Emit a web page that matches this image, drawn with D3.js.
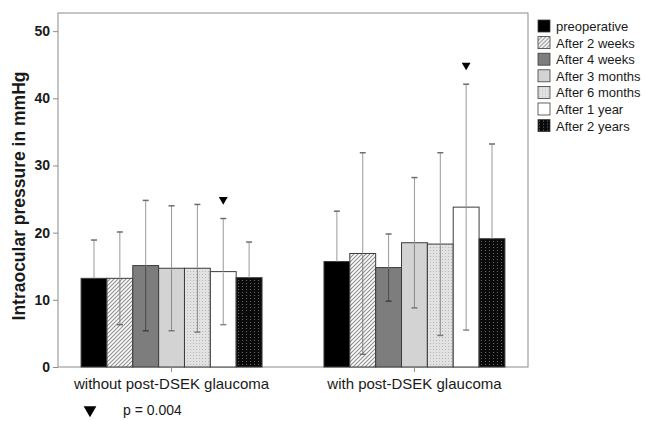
<!DOCTYPE html>
<html>
<head>
<meta charset="utf-8">
<script src="https://cdn.jsdelivr.net/npm/d3@7"></script>
<style>
  body { margin: 0; background: #fff; }
  svg text { font-family: "Liberation Sans", Arial, sans-serif; fill: #1a1a1a; }
</style>
</head>
<body>
<svg id="chart" width="646" height="421"></svg>
<script>
const groups = ["without post-DSEK glaucoma", "with post-DSEK glaucoma"];
const periods = ["preoperative", "After 2 weeks", "After 4 weeks", "After 3 months",
                 "After 6 months", "After 1 year", "After 2 years"];

// means and standard deviations
const meanWithout = [13.2, 13.2, 15.1, 14.7, 14.7, 14.2, 13.3];
const sdWithout   = [5.7, 6.9, 9.7, 9.3, 9.5, 7.9, 5.3];
const meanWith    = [15.7, 16.9, 14.8, 18.5, 18.3, 23.8, 19.1];
const sdWith      = [7.5, 15.0, 5.0, 9.7, 13.6, 18.3, 14.1];

// index of the period marked as significant in each group
const sigWithout = [5];
const sigWith = [5];
const pNote = "p = 0.004";

const yTicks = [0, 10, 20, 30, 40, 50];

const svg = d3.select("#chart");

const plotLeft = 58, plotRight = 528, plotTop = 13, plotBottom = 367;

const x0 = d3.scaleBand().domain(groups).range([plotLeft, plotRight])
  .paddingInner(0.255).paddingOuter(0.095);
const x1 = d3.scaleBand().domain(periods).range([0, x0.bandwidth()]);
const y = d3.scaleLinear().domain([0, 52.7]).range([plotBottom, plotTop]);

// fills for the seven periods
const defs = svg.append("defs");

const hatch = defs.append("pattern").attr("id", "hatch")
  .attr("patternUnits", "userSpaceOnUse").attr("width", 4).attr("height", 4);
hatch.append("rect").attr("width", 4).attr("height", 4).attr("fill", "#fff");
hatch.append("path").attr("d", "M-1,1 L1,-1 M0,4 L4,0 M3,5 L5,3")
  .attr("stroke", "#8a8a8a").attr("stroke-width", 1.1);

const dots = defs.append("pattern").attr("id", "dots")
  .attr("patternUnits", "userSpaceOnUse").attr("width", 3).attr("height", 3);
dots.append("rect").attr("width", 3).attr("height", 3).attr("fill", "#e2e2e2");
dots.append("rect").attr("x", 1).attr("y", 1).attr("width", 1).attr("height", 1).attr("fill", "#b8b8b8");

const darkDots = defs.append("pattern").attr("id", "darkdots")
  .attr("patternUnits", "userSpaceOnUse").attr("width", 4).attr("height", 3);
darkDots.append("rect").attr("width", 4).attr("height", 3).attr("fill", "#0a0a0a");
darkDots.append("rect").attr("x", 1).attr("y", 1).attr("width", 1).attr("height", 1).attr("fill", "#6a6a6a");

const fills = ["#000", "url(#hatch)", "#7d7d7d", "#d3d3d3", "url(#dots)", "#fff", "url(#darkdots)"];
const color = d3.scaleOrdinal().domain(periods).range(fills);
// colour of the whisker where it runs inside the bar (lost on the black bars)
const inner = d3.scaleOrdinal().domain(periods)
  .range(["#000", "#808080", "#4a4a4a", "#8a8a8a", "#8a8a8a", "#999", "#0a0a0a"]);

// plot frame
svg.append("rect")
  .attr("x", plotLeft).attr("y", plotTop)
  .attr("width", plotRight - plotLeft).attr("height", plotBottom - plotTop)
  .attr("fill", "none").attr("stroke", "#8c8c8c").attr("stroke-width", 1);

const tableFor = (means, sds, sig) => periods.map((p, i) => ({
  period: p, mean: means[i], sd: sds[i], sig: sig.includes(i)
}));

const data = [
  { group: groups[0], rows: tableFor(meanWithout, sdWithout, sigWithout) },
  { group: groups[1], rows: tableFor(meanWith, sdWith, sigWith) }
];

const g = svg.selectAll("g.group").data(data).join("g")
  .attr("class", "group")
  .attr("transform", d => `translate(${x0(d.group)},0)`);

g.selectAll("rect.bar").data(d => d.rows).join("rect")
  .attr("class", "bar")
  .attr("x", d => x1(d.period))
  .attr("y", d => y(d.mean))
  .attr("width", x1.bandwidth())
  .attr("height", d => y(0) - y(d.mean))
  .attr("fill", d => color(d.period))
  .attr("stroke", "#3c3c3c").attr("stroke-width", 1);

// error bars
const eb = g.selectAll("g.err").data(d => d.rows).join("g")
  .attr("class", "err")
  .attr("transform", d => `translate(${x1(d.period) + x1.bandwidth() / 2},0)`);

// part above the bar
eb.append("line")
  .attr("y1", d => y(d.mean + d.sd))
  .attr("y2", d => y(d.mean))
  .attr("stroke", "#999").attr("stroke-width", 1);
eb.append("line")
  .attr("x1", -3).attr("x2", 3)
  .attr("y1", d => y(d.mean + d.sd)).attr("y2", d => y(d.mean + d.sd))
  .attr("stroke", "#6e6e6e").attr("stroke-width", 1.5);

// part inside the bar
eb.append("line")
  .attr("y1", d => y(d.mean) + 1)
  .attr("y2", d => y(Math.max(0, d.mean - d.sd)))
  .attr("stroke", d => inner(d.period)).attr("stroke-width", 1);
eb.append("line")
  .attr("x1", -3).attr("x2", 3)
  .attr("y1", d => y(Math.max(0, d.mean - d.sd))).attr("y2", d => y(Math.max(0, d.mean - d.sd)))
  .attr("stroke", d => d3.color(inner(d.period)).darker(0.4)).attr("stroke-width", 1.5);

// significance markers
const tri = d3.symbol().type(d3.symbolTriangle).size(34);
g.selectAll("path.sig").data(d => d.rows.filter(r => r.sig)).join("path")
  .attr("class", "sig")
  .attr("d", tri)
  .attr("transform", d => `translate(${x1(d.period) + x1.bandwidth() / 2},${y(d.mean + d.sd) - 19}) rotate(180)`)
  .attr("fill", "#000");

// y axis
const yAxis = svg.append("g")
  .attr("transform", `translate(${plotLeft},0)`)
  .call(d3.axisLeft(y).tickValues(yTicks).tickSize(5).tickPadding(3));
yAxis.select(".domain").remove();
yAxis.selectAll(".tick line").attr("stroke", "#8c8c8c");
yAxis.selectAll(".tick text")
  .attr("font-size", 14).attr("font-weight", "bold")
  .style("font-family", "'Liberation Sans', Arial, sans-serif").attr("fill", "#1a1a1a");

// x axis
const xAxis = svg.append("g")
  .attr("transform", `translate(0,${plotBottom})`)
  .call(d3.axisBottom(x0).tickSize(5).tickPadding(6));
xAxis.select(".domain").remove();
xAxis.selectAll(".tick line").attr("stroke", "#8c8c8c");
xAxis.selectAll(".tick text")
  .attr("font-size", 15)
  .style("font-family", "'Liberation Sans', Arial, sans-serif").attr("fill", "#1a1a1a");

// y axis title
svg.append("text")
  .attr("transform", `translate(25,${(plotTop + plotBottom) / 2 + 6}) rotate(-90)`)
  .attr("text-anchor", "middle")
  .attr("font-size", 17.5).attr("font-weight", "bold")
  .text("Intraocular pressure in mmHg");

// legend
const legend = svg.append("g").attr("transform", "translate(538,20)");
const item = legend.selectAll("g").data(periods).join("g")
  .attr("transform", (d, i) => `translate(0,${i * 16.6})`);
item.append("rect")
  .attr("width", 12).attr("height", 12)
  .attr("fill", d => color(d))
  .attr("stroke", "#3c3c3c").attr("stroke-width", 0.8);
item.append("text")
  .attr("x", 18).attr("y", 11)
  .attr("font-size", 13)
  .text(d => d);

// p value note
const note = svg.append("g").attr("transform", "translate(90,410)");
note.append("path")
  .attr("d", d3.symbol().type(d3.symbolTriangle).size(70))
  .attr("transform", "rotate(180)")
  .attr("fill", "#000");
note.append("text")
  .attr("x", 33).attr("y", 5)
  .attr("font-size", 14)
  .text(pNote);
</script>
</body>
</html>
